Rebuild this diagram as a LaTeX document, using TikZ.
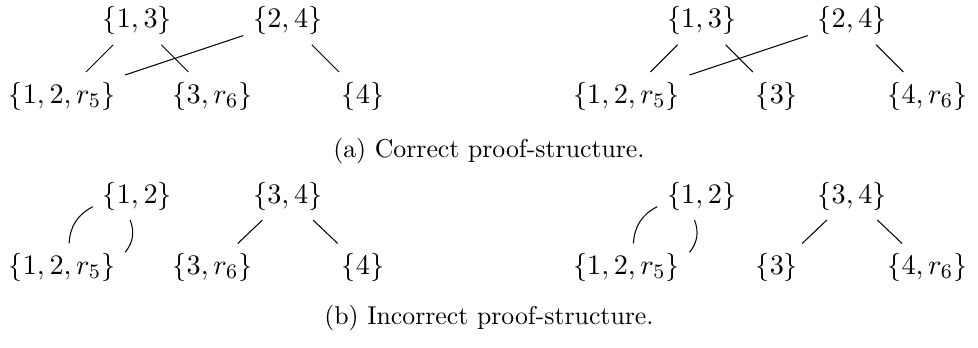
\documentclass[tikz,border=0pt,11pt]{standalone}
\usepackage{amsmath}
\begin{document}
\begin{tikzpicture}[x=1.026cm, y=1.026cm, line join=round]
  \useasboundingbox (-0.824,-3.336) rectangle (12.173,1.276); % identical box

  % --- (a) correct proof-structure, left ---
  \node (al13)  at (1,1) {$\{1,3\}$};
  \node (al24)  at (3,1) {$\{2,4\}$};
  \node (al125) at (0,0) {$\{1,2,r_5\}$};
  \node (al36)  at (2,0) {$\{3,r_6\}$};
  \node (al4)   at (4,0) {$\{4\}$};
  \draw (al13) -- (al125); \draw (al13) -- (al36);
  \draw (al24) -- (al125); \draw (al24) -- (al4);

  % --- (a) right ---
  \node (ar13)  at (8.5,1)  {$\{1,3\}$};
  \node (ar24)  at (10.5,1) {$\{2,4\}$};
  \node (ar125) at (7.5,0)  {$\{1,2,r_5\}$};
  \node (ar3)   at (9.5,0)  {$\{3\}$};
  \node (ar46)  at (11.5,0) {$\{4,r_6\}$};
  \draw (ar13) -- (ar125); \draw (ar13) -- (ar3);
  \draw (ar24) -- (ar125); \draw (ar24) -- (ar46);

  \node[font=\small] (capa) at (5.674,-0.731) {(a) Correct proof-structure.};

  % --- (b) incorrect proof-structure, left ---
  \node (bl12)  at (1,-1.329) {$\{1,2\}$};
  \node (bl34)  at (3,-1.329) {$\{3,4\}$};
  \node (bl125) at (0,-2.279) {$\{1,2,r_5\}$};
  \node (bl36)  at (2,-2.279) {$\{3,r_6\}$};
  \node (bl4)   at (4,-2.279) {$\{4\}$};
  \draw (bl12) to[bend right] (bl125); \draw (bl12) to[bend left] (bl125);
  \draw (bl34) -- (bl36); \draw (bl34) -- (bl4);

  % --- (b) right ---
  \node (br12)  at (8.5,-1.329)  {$\{1,2\}$};
  \node (br34)  at (10.5,-1.329) {$\{3,4\}$};
  \node (br125) at (7.5,-2.279)  {$\{1,2,r_5\}$};
  \node (br3)   at (9.5,-2.279)  {$\{3\}$};
  \node (br46)  at (11.5,-2.279) {$\{4,r_6\}$};
  \draw (br12) to[bend right] (br125); \draw (br12) to[bend left] (br125);
  \draw (br34) -- (br3); \draw (br34) -- (br46);

  \node[font=\small] (capb) at (5.674,-2.95) {(b) Incorrect proof-structure.};
\end{tikzpicture}
\end{document}
